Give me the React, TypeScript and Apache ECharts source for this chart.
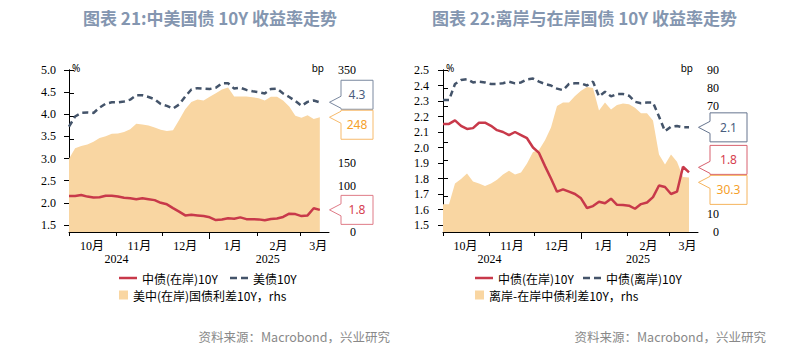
import React, { useEffect, useRef } from "react";
import * as echarts from "echarts";

// ---------- data ----------
const dates = [
  "2024-10-01", "2024-10-05", "2024-10-09", "2024-10-13", "2024-10-17", "2024-10-21", "2024-10-25", "2024-10-29",
  "2024-11-02", "2024-11-06", "2024-11-10", "2024-11-14", "2024-11-18", "2024-11-22", "2024-11-26", "2024-11-30",
  "2024-12-04", "2024-12-08", "2024-12-12", "2024-12-16", "2024-12-20", "2024-12-24", "2024-12-28",
  "2025-01-01", "2025-01-05", "2025-01-09", "2025-01-13", "2025-01-17", "2025-01-21", "2025-01-25", "2025-01-29",
  "2025-02-02", "2025-02-06", "2025-02-10", "2025-02-14", "2025-02-18", "2025-02-22", "2025-02-26",
  "2025-03-02", "2025-03-06", "2025-03-10", "2025-03-14",
];

const cn10y = [
  2.152, 2.152, 2.175, 2.14, 2.12, 2.125, 2.16, 2.16, 2.14, 2.112, 2.1, 2.08, 2.1, 2.08, 2.06, 2.0,
  1.965, 1.88, 1.8, 1.715, 1.73, 1.715, 1.7, 1.672, 1.61, 1.622, 1.65, 1.64, 1.67, 1.63, 1.629,
  1.625, 1.605, 1.635, 1.645, 1.68, 1.755, 1.745, 1.7, 1.715, 1.876, 1.84,
];

const us10y = [
  3.72, 3.95, 4.03, 4.04, 4.03, 4.15, 4.24, 4.27, 4.27, 4.29, 4.33, 4.43, 4.43, 4.39, 4.34, 4.23,
  4.19, 4.13, 4.22, 4.4, 4.56, 4.59, 4.58, 4.57, 4.6, 4.7, 4.7, 4.58, 4.6, 4.55, 4.52,
  4.5, 4.47, 4.57, 4.58, 4.47, 4.39, 4.3, 4.19, 4.28, 4.31, 4.27,
];

const usCnSpread = [
  158, 181, 186, 189, 195, 203, 207, 212, 213, 216, 222, 234, 232, 230, 226, 221,
  218, 220, 242, 265, 281, 286, 284, 292, 300, 308, 312, 293, 293, 293, 291,
  289, 284, 292, 292, 284, 271, 251, 247, 252, 244, 248,
];

const cnh10y = [
  2.306, 2.306, 2.41, 2.435, 2.44, 2.42, 2.425, 2.42, 2.41, 2.41, 2.415, 2.425, 2.414, 2.42, 2.44, 2.445,
  2.425, 2.41, 2.4, 2.38, 2.37, 2.41, 2.414, 2.414, 2.4, 2.425, 2.33, 2.36, 2.33, 2.345, 2.345,
  2.334, 2.295, 2.285, 2.29, 2.29, 2.2, 2.105, 2.135, 2.139, 2.13, 2.13,
];

const cnhCnSpread = [
  15.4, 15.4, 27, 29.5, 32.5, 28, 26.9, 25.5, 27, 29, 32, 34, 32, 33, 38, 44.5,
  45.5, 51, 58, 70, 72, 72, 75.5, 78.5, 80.5, 80, 67.5, 72, 68, 70.5, 71.4,
  71, 69, 66, 66, 62, 43, 37.5, 43, 39, 30.5, 30.3,
];

const monthTickDates = ["2024-10-01", "2024-11-01", "2024-12-01", "2025-01-01", "2025-02-01", "2025-03-01"];
const yearTickDates = ["2025-01-01"];
const monthLabels = ["10月", "11月", "12月", "1月", "2月", "3月"];
const monthLabelDates = ["2024-10-16", "2024-11-16", "2024-12-16", "2025-01-16", "2025-02-15", "2025-03-13"];
const yearLabels = ["2024", "2025"];
const yearLabelDates = ["2024-11-01", "2025-02-08"];
const axisStart = "2024-10-01";
const axisEnd = "2025-03-20";

const leftTicksA = [1.5, 2.0, 2.5, 3.0, 3.5, 4.0, 4.5, 5.0];
const leftTicksB = [1.5, 1.6, 1.7, 1.8, 1.9, 2.0, 2.1, 2.2, 2.3, 2.4, 2.5];

const titleA = "图表 21:中美国债 10Y 收益率走势";
const titleB = "图表 22:离岸与在岸国债 10Y 收益率走势";
const sourceText = "资料来源：Macrobond，兴业研究";

const nameCn = "中债(在岸)10Y";
const nameUs = "美债10Y";
const nameSpreadA = "美中(在岸)国债利差10Y，rhs";
const nameCnh = "中债(离岸)10Y";
const nameSpreadB = "离岸-在岸中债利差10Y，rhs";

// ---------- helpers ----------
const DAY = 86400000;
const ORIGIN = Date.parse(axisStart + "T00:00:00Z");
const toDay = (s: string) => Math.round((Date.parse(s + "T00:00:00Z") - ORIGIN) / DAY);
const X_MAX = toDay(axisEnd);
const days = dates.map(toDay);
const pairs = (vals: number[]) => vals.map((v, i) => [days[i], v]);
const monthTicks = monthTickDates.map(toDay);
const yearTicks = yearTickDates.map(toDay);
const monthLabelDays = monthLabelDates.map(toDay);
const yearLabelDays = yearLabelDates.map(toDay);
const lookup = (v: number, keys: number[], labels: string[]) => {
  const i = keys.findIndex((k) => Math.abs(k - v) < 0.01);
  return i >= 0 ? labels[i] : "";
};

const RED = "#c8394a";
const NAVY = "#44546a";
const PEACH = "#f9d6a2";
const SERIF = "'Liberation Serif', 'Times New Roman', 'Noto Sans CJK SC', serif";
const CJK = "'Noto Sans CJK SC', sans-serif";
const SOLID_ICON = "path://M0,0H18V2.5H0Z";
const DASH_ICON = "path://M0,0H7V2.5H0Z M11,0H18V2.5H11Z";

function xAxesFor(grid: number) {
  const common = { type: "value", gridIndex: grid, min: 0, max: X_MAX, position: "bottom", splitLine: { show: false } };
  return [
    {
      ...common,
      axisLine: { show: true, onZero: false, lineStyle: { color: "#000", width: 1 } },
      axisTick: { show: true, length: 4, customValues: monthTicks, lineStyle: { color: "#000" } },
      axisLabel: {
        customValues: monthLabelDays,
        formatter: (v: number) => lookup(v, monthLabelDays, monthLabels),
        margin: 8, fontFamily: SERIF, fontSize: 12, color: "#000",
      },
    },
    {
      ...common,
      axisLine: { show: false, onZero: false },
      axisTick: { show: true, length: 7, customValues: yearTicks, lineStyle: { color: "#000" } },
      axisLabel: {
        customValues: yearLabelDays,
        formatter: (v: number) => lookup(v, yearLabelDays, yearLabels),
        margin: 21, fontFamily: SERIF, fontSize: 12, color: "#000",
      },
    },
  ];
}

function yLeft(grid: number, min: number, max: number, ticks: number[], margin: number) {
  return {
    type: "value", gridIndex: grid, position: "left", min, max,
    axisLine: { show: true, lineStyle: { color: "#000" } },
    axisTick: { show: true, length: 5, customValues: ticks, lineStyle: { color: "#000" } },
    axisLabel: {
      customValues: ticks, formatter: (v: number) => v.toFixed(1), margin,
      fontFamily: SERIF, fontSize: 12, color: "#000",
    },
    splitLine: { show: false },
  };
}

function yRight(grid: number, max: number, interval: number, margin: number) {
  return {
    type: "value", gridIndex: grid, position: "right", min: 0, max, interval,
    axisLine: { show: true, lineStyle: { color: "#000" } },
    axisTick: { show: true, length: 5, lineStyle: { color: "#000" } },
    axisLabel: { align: "right", margin, fontFamily: SERIF, fontSize: 12, color: "#000" },
    splitLine: { show: false },
  };
}

function areaSeries(name: string, xi: number, yi: number, vals: number[]) {
  return {
    type: "line", name, xAxisIndex: xi, yAxisIndex: yi, data: pairs(vals), symbol: "none", showSymbol: false,
    lineStyle: { width: 0, color: PEACH }, itemStyle: { color: PEACH },
    areaStyle: { color: PEACH, opacity: 1 }, z: 1,
  };
}
function lineSeries(name: string, xi: number, yi: number, vals: number[], color: string, dashed: boolean) {
  return {
    type: "line", name, xAxisIndex: xi, yAxisIndex: yi, data: pairs(vals), symbol: "none", showSymbol: false,
    lineStyle: { width: 2.5, color, type: dashed ? [6, 4] : "solid" }, itemStyle: { color }, z: dashed ? 4 : 3,
  };
}

function legendLine(name: string, left: number, dashed: boolean) {
  return {
    data: [{ name, icon: dashed ? DASH_ICON : SOLID_ICON }],
    left, top: 272, orient: "horizontal", padding: 0,
    itemWidth: 18, itemHeight: 2.5, itemGap: 5,
    itemStyle: { borderWidth: 0 },
    textStyle: { fontFamily: CJK, fontSize: 12, color: "#000" },
    selectedMode: false,
  };
}
function legendSquare(name: string, left: number) {
  return {
    data: [{ name, icon: "rect" }],
    left, top: 289, orient: "horizontal", padding: 0,
    itemWidth: 9, itemHeight: 9, itemGap: 5,
    itemStyle: { borderWidth: 0 },
    textStyle: { fontFamily: CJK, fontSize: 12, color: "#000" },
    selectedMode: false,
  };
}

function buildOption() {
  const titleStyle = { fontFamily: CJK, fontSize: 17, fontWeight: "bold", color: "#8496b0" };
  return {
    animation: false,
    backgroundColor: "#fff",
    title: [
      { text: titleA, left: 83, top: 9, textStyle: titleStyle, padding: 0 },
      { text: titleB, left: 432, top: 9, textStyle: titleStyle, padding: 0 },
    ],
    grid: [
      { left: 69, top: 70, width: 260, height: 162 },
      { left: 443, top: 70, width: 255, height: 162 },
    ],
    xAxis: [...xAxesFor(0), ...xAxesFor(1)],
    yAxis: [
      yLeft(0, 1.34, 5.0, leftTicksA, 13),
      yRight(0, 350, 50, 27),
      yLeft(1, 1.455, 2.5, leftTicksB, 14),
      yRight(1, 90, 10, 21),
    ],
    legend: [
      legendLine(nameCn, 119, false),
      legendLine(nameUs, 230, true),
      legendSquare(nameSpreadA, 119),
      legendLine(nameCn, 475, false),
      legendLine(nameCnh, 583, true),
      legendSquare(nameSpreadB, 475),
    ],
    series: [
      areaSeries(nameSpreadA, 0, 1, usCnSpread),
      lineSeries(nameCn, 0, 0, cn10y, RED, false),
      lineSeries(nameUs, 0, 0, us10y, NAVY, true),
      areaSeries(nameSpreadB, 2, 3, cnhCnSpread),
      lineSeries(nameCn, 2, 2, cn10y, RED, false),
      lineSeries(nameCnh, 2, 2, cnh10y, NAVY, true),
    ],
  };
}

type CalloutDef = { xi: number; yi: number; value: number; text: string; color: string; border: string; w: number };
type Box = { T: number; B: number };
const H = 29;

function layoutCallouts(chart: any, defs: CalloutDef[]) {
  const items = defs.map((d) => {
    const tipY = chart.convertToPixel({ yAxisIndex: d.yi }, d.value) as number;
    const axisX = chart.convertToPixel({ xAxisIndex: d.xi }, X_MAX) as number;
    return { ...d, tipY, axisX, top: tipY - H / 2 };
  });
  items.sort((a, b) => a.top - b.top);
  for (let k = 0; k < 6; k++) {
    for (let i = 1; i < items.length; i++) {
      const p = items[i - 1];
      const c = items[i];
      const ov = p.top + H + 1 - c.top;
      if (ov > 0) {
        p.top -= ov / 2;
        c.top += ov / 2;
      }
    }
  }
  return items;
}

function calloutEls(items: any[]) {
  const els: any[] = [];
  items.forEach((it) => {
    const L = it.axisX + 12;
    const R = L + it.w;
    const T = it.top;
    const B = T + H;
    const ty = Math.min(Math.max(it.tipY, T + 7), B - 7);
    els.push({
      type: "polygon", z: 100,
      shape: { points: [[L, T], [R, T], [R, B], [L, B], [L, ty + 6], [it.axisX + 0.5, ty], [L, ty - 6]] },
      style: { fill: "#fff", stroke: it.border, lineWidth: 1 },
    });
    els.push({
      type: "text", z: 101, x: (L + R) / 2, y: (T + B) / 2,
      style: {
        text: it.text, fill: it.color, font: "12px 'Noto Sans', sans-serif",
        align: "center", verticalAlign: "middle", textAlign: "center", textVerticalAlign: "middle",
      },
    });
  });
  return els;
}

function staticText(x: number, y: number, text: string, font: string, fill: string, align: string) {
  return {
    type: "text", x, y, z: 50,
    style: { text, font, fill, align, verticalAlign: "middle", textAlign: align, textVerticalAlign: "middle" },
  };
}

export default function App() {
  const ref = useRef<HTMLDivElement>(null);
  useEffect(() => {
    document.body.style.margin = "0";
    const el = ref.current!;
    const chart = echarts.init(el, null, { renderer: "svg" });
    chart.setOption(buildOption() as any);
    const last = (a: number[]) => a[a.length - 1];
    const unitFont = "10px 'Noto Sans', sans-serif";
    const srcFont = "12.5px 'Noto Sans CJK SC', sans-serif";

    const itemsA = layoutCallouts(chart, [
      { xi: 0, yi: 0, value: last(us10y), text: last(us10y).toFixed(1), color: "#4a5d7e", border: "#7a889f", w: 32 },
      { xi: 0, yi: 1, value: last(usCnSpread), text: String(last(usCnSpread)), color: "#f5a02a", border: "#f7bb6c", w: 32 },
      { xi: 0, yi: 0, value: last(cn10y), text: last(cn10y).toFixed(1), color: "#d6404f", border: "#df7b87", w: 32 },
    ]);
    const itemsB = layoutCallouts(chart, [
      { xi: 2, yi: 2, value: last(cnh10y), text: last(cnh10y).toFixed(1), color: "#4a5d7e", border: "#66758f", w: 37 },
      { xi: 2, yi: 2, value: last(cn10y), text: last(cn10y).toFixed(1), color: "#d6404f", border: "#d8606e", w: 37 },
      { xi: 2, yi: 3, value: last(cnhCnSpread), text: last(cnhCnSpread).toFixed(1), color: "#f5a02a", border: "#f5b45e", w: 37 },
    ]);

    // right-axis labels that sit under a callout box are hidden, as in the reference
    const coveredFormatter = (yi: number, items: any[]) => (v: number) => {
      const y = chart.convertToPixel({ yAxisIndex: yi }, v) as number;
      const hit = items.some((it) => y > it.top - 3 && y < it.top + H + 3);
      return hit ? "" : String(v);
    };
    chart.setOption({
      yAxis: [
        {},
        { axisLabel: { formatter: coveredFormatter(1, itemsA) } },
        {},
        { axisLabel: { formatter: coveredFormatter(3, itemsB) } },
      ],
    } as any);

    const elements = [
      staticText(72, 68, "%", unitFont, "#000", "left"),
      staticText(324, 68, "bp", unitFont, "#000", "right"),
      staticText(446, 68, "%", unitFont, "#000", "left"),
      staticText(693, 68, "bp", unitFont, "#000", "right"),
      staticText(390, 336, sourceText, srcFont, "#898989", "right"),
      staticText(766, 336, sourceText, srcFont, "#898989", "right"),
      ...calloutEls(itemsA),
      ...calloutEls(itemsB),
    ];
    chart.setOption({ graphic: { elements } } as any);
    return () => chart.dispose();
  }, []);
  return <div ref={ref} style={{ width: 794, height: 348 }} />;
}
